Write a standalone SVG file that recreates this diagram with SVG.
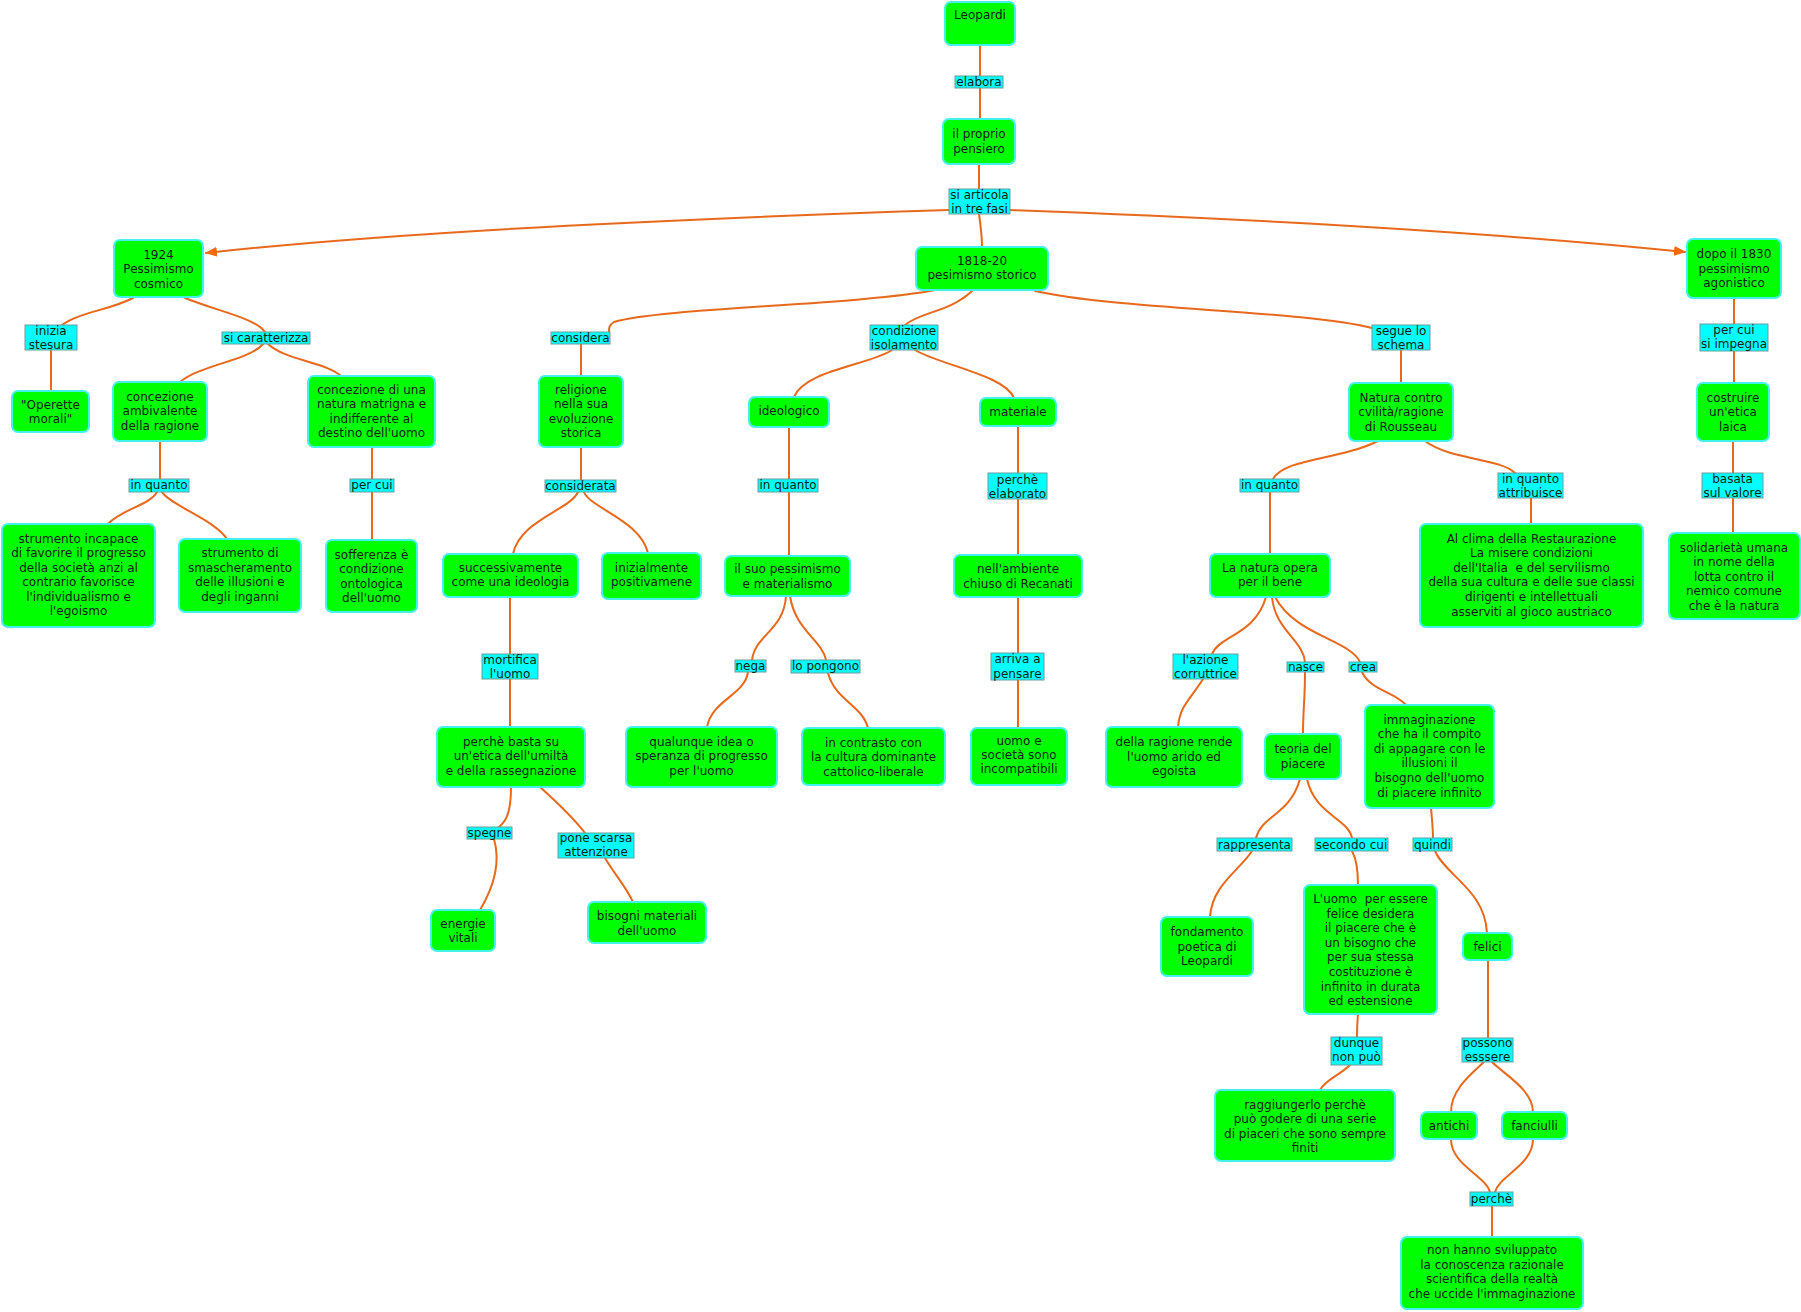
<svg xmlns="http://www.w3.org/2000/svg" width="1801" height="1312" viewBox="0 0 1801 1312">
<defs>
<style>
.n{fill:#00ff00;stroke:#44f2ec;stroke-width:2}
.l{fill:#00ffff;stroke:#6a9c9c;stroke-width:1}
text{font-family:"DejaVu Sans",Verdana,sans-serif;font-size:12px;fill:#112211;text-anchor:middle}
.c path{fill:none;stroke:#e8691c;stroke-width:2;stroke-linecap:round}
</style>
<marker id="ah" viewBox="0 0 12 10" refX="11" refY="5" markerWidth="12" markerHeight="10" markerUnits="userSpaceOnUse" orient="auto">
<path d="M0,0 L12,5 L0,10 Z" fill="#f26a10"/>
</marker>
</defs>
<rect width="1801" height="1312" fill="#ffffff"/>
<g class="c" id="connectors">
<path d="M980,45 V76 M980,88 V119"/>
<path d="M979,164 V189"/>
<path d="M949,210 Q450,226 206,253" marker-end="url(#ah)"/>
<path d="M1010,210 Q1420,225 1685,252" marker-end="url(#ah)"/>
<path d="M979,214 C981,228 982,235 982,247"/>
<path d="M935,290 C860,305 660,308 614,322 C609,325 609,328 609,332"/>
<path d="M972,291 C950,312 920,312 905,325"/>
<path d="M1035,291 C1120,310 1300,310 1372,328"/>
<path d="M133,298 C110,310 80,312 62,325"/>
<path d="M185,298 C220,312 255,318 265,332"/>
<path d="M263,344 C250,360 200,365 180,382"/>
<path d="M268,344 C285,360 325,362 341,376"/>
<path d="M51,350 V391"/>
<path d="M160,441 V479"/>
<path d="M157,492 C150,505 120,510 108,524"/>
<path d="M162,492 C170,505 215,520 227,539"/>
<path d="M372,447 V479 M372,492 V540"/>
<path d="M581,344 V376"/>
<path d="M581,447 V480"/>
<path d="M578,492 C570,510 520,520 513,554"/>
<path d="M584,492 C590,508 640,520 648,553"/>
<path d="M510,597 V654 M510,679 V727"/>
<path d="M892,350 C870,365 805,370 794,397"/>
<path d="M915,350 C940,365 1005,375 1014,398"/>
<path d="M789,427 V479 M789,492 V556"/>
<path d="M786,596 C784,630 755,635 752,660"/>
<path d="M748,672 C745,695 712,700 707,727"/>
<path d="M790,596 C795,630 822,640 826,660"/>
<path d="M828,673 C835,700 862,705 868,728"/>
<path d="M1018,426 V473 M1018,499 V555 M1018,597 V653 M1018,680 V728"/>
<path d="M1401,350 V383"/>
<path d="M1734,298 V324 M1734,351 V383 M1733,441 V473 M1733,498 V533"/>
<path d="M1378,441 C1340,460 1285,458 1273,479"/>
<path d="M1425,441 C1450,460 1500,458 1515,473"/>
<path d="M1531,498 V524"/>
<path d="M1270,492 V554"/>
<path d="M1266,597 C1255,635 1220,635 1212,654"/>
<path d="M1203,679 C1190,700 1180,705 1178,727"/>
<path d="M1272,597 C1275,630 1303,640 1305,662"/>
<path d="M1305,672 C1305,700 1303,710 1303,734"/>
<path d="M1275,597 C1295,635 1350,640 1360,662"/>
<path d="M1362,672 C1370,690 1395,692 1406,705"/>
<path d="M1300,779 C1290,815 1262,815 1256,838"/>
<path d="M1252,851 C1240,870 1212,885 1210,917"/>
<path d="M1307,779 C1315,815 1348,818 1352,838"/>
<path d="M1352,851 C1357,860 1358,870 1358,885"/>
<path d="M1431,808 C1432,820 1433,828 1433,838"/>
<path d="M1435,851 C1445,875 1485,890 1487,933"/>
<path d="M1358,1014 C1357,1025 1357,1030 1357,1037"/>
<path d="M1350,1065 C1340,1075 1325,1080 1320,1090"/>
<path d="M1488,960 V1038"/>
<path d="M1484,1062 C1470,1075 1451,1090 1451,1112"/>
<path d="M1492,1062 C1505,1075 1533,1090 1533,1112"/>
<path d="M1451,1139 C1451,1165 1485,1175 1490,1192"/>
<path d="M1533,1139 C1533,1165 1500,1175 1495,1192"/>
<path d="M1492,1206 V1237"/>
<path d="M511,787 C511,815 505,822 499,827"/>
<path d="M494,839 C500,860 495,885 480,910"/>
<path d="M540,787 C560,805 575,820 585,833"/>
<path d="M605,858 C615,875 625,885 633,902"/>
</g>
<g id="labels">
<g id="lab-elabora"><rect class="l" x="955" y="76" width="48" height="12"/><text x="979" y="86">elabora</text></g>
<g id="lab-articola"><rect class="l" x="949" y="189" width="61" height="25"/><text><tspan x="979.5" y="199">si articola</tspan><tspan x="979.5" y="213">in tre fasi</tspan></text></g>
<g id="lab-inizia"><rect class="l" x="25" y="325" width="52" height="25"/><text><tspan x="51" y="335">inizia</tspan><tspan x="51" y="349">stesura</tspan></text></g>
<g id="lab-caratterizza"><rect class="l" x="222" y="332" width="88" height="12"/><text x="266" y="342">si caratterizza</text></g>
<g id="lab-considera"><rect class="l" x="551" y="332" width="59" height="12"/><text x="580.5" y="342">considera</text></g>
<g id="lab-condizione"><rect class="l" x="870" y="325" width="68" height="25"/><text><tspan x="904" y="335">condizione</tspan><tspan x="904" y="349">isolamento</tspan></text></g>
<g id="lab-segue"><rect class="l" x="1372" y="325" width="58" height="25"/><text><tspan x="1401" y="335">segue lo</tspan><tspan x="1401" y="349">schema</tspan></text></g>
<g id="lab-impegna"><rect class="l" x="1700" y="324" width="68" height="27"/><text><tspan x="1734" y="334">per cui</tspan><tspan x="1734" y="348">si impegna</tspan></text></g>
<g id="lab-inquanto1"><rect class="l" x="129" y="479" width="60" height="13"/><text x="159" y="489">in quanto</text></g>
<g id="lab-percui"><rect class="l" x="350" y="479" width="44" height="13"/><text x="372" y="489">per cui</text></g>
<g id="lab-considerata"><rect class="l" x="545" y="480" width="71" height="12"/><text x="580.5" y="490">considerata</text></g>
<g id="lab-inquanto2"><rect class="l" x="758" y="479" width="60" height="13"/><text x="788" y="489">in quanto</text></g>
<g id="lab-elaborato"><rect class="l" x="988" y="473" width="59" height="26"/><text><tspan x="1017.5" y="484">perchè</tspan><tspan x="1017.5" y="498">elaborato</tspan></text></g>
<g id="lab-inquanto3"><rect class="l" x="1240" y="479" width="59" height="13"/><text x="1269.5" y="489">in quanto</text></g>
<g id="lab-attribuisce"><rect class="l" x="1498" y="473" width="65" height="25"/><text><tspan x="1530.5" y="483">in quanto</tspan><tspan x="1530.5" y="497">attribuisce</tspan></text></g>
<g id="lab-basata"><rect class="l" x="1702" y="473" width="61" height="25"/><text><tspan x="1732.5" y="483">basata</tspan><tspan x="1732.5" y="497">sul valore</tspan></text></g>
<g id="lab-mortifica"><rect class="l" x="482" y="654" width="56" height="25"/><text><tspan x="510" y="664">mortifica</tspan><tspan x="510" y="678">l'uomo</tspan></text></g>
<g id="lab-nega"><rect class="l" x="735" y="660" width="31" height="12"/><text x="750.5" y="670">nega</text></g>
<g id="lab-pongono"><rect class="l" x="791" y="660" width="69" height="13"/><text x="825.5" y="670">lo pongono</text></g>
<g id="lab-arriva"><rect class="l" x="991" y="653" width="53" height="27"/><text><tspan x="1017.5" y="663">arriva a</tspan><tspan x="1017.5" y="678">pensare</tspan></text></g>
<g id="lab-azione"><rect class="l" x="1173" y="654" width="65" height="25"/><text><tspan x="1205.5" y="664">l'azione</tspan><tspan x="1205.5" y="678">corruttrice</tspan></text></g>
<g id="lab-nasce"><rect class="l" x="1287" y="662" width="37" height="10"/><text x="1305.5" y="671">nasce</text></g>
<g id="lab-crea"><rect class="l" x="1349" y="662" width="28" height="10"/><text x="1363" y="671">crea</text></g>
<g id="lab-spegne"><rect class="l" x="467" y="827" width="45" height="12"/><text x="489.5" y="837">spegne</text></g>
<g id="lab-pone"><rect class="l" x="558" y="833" width="76" height="25"/><text><tspan x="596" y="842">pone scarsa</tspan><tspan x="596" y="856">attenzione</tspan></text></g>
<g id="lab-rappresenta"><rect class="l" x="1217" y="838" width="75" height="13"/><text x="1254.5" y="849">rappresenta</text></g>
<g id="lab-secondo"><rect class="l" x="1315" y="838" width="73" height="13"/><text x="1351.5" y="849">secondo cui</text></g>
<g id="lab-quindi"><rect class="l" x="1413" y="838" width="39" height="13"/><text x="1432.5" y="849">quindi</text></g>
<g id="lab-dunque"><rect class="l" x="1331" y="1037" width="51" height="28"/><text><tspan x="1356.5" y="1047">dunque</tspan><tspan x="1356.5" y="1061">non può</tspan></text></g>
<g id="lab-possono"><rect class="l" x="1462" y="1038" width="51" height="24"/><text><tspan x="1487.5" y="1047">possono</tspan><tspan x="1487.5" y="1061">esssere</tspan></text></g>
<g id="lab-perche"><rect class="l" x="1470" y="1192" width="43" height="14"/><text x="1491.5" y="1203">perchè</text></g>
</g>
<g id="nodes">
<g id="n-leopardi"><rect class="n" x="945" y="2" width="70" height="43" rx="6"/><text x="980" y="19">Leopardi</text></g>
<g id="n-pensiero"><rect class="n" x="943" y="119" width="72" height="45" rx="6"/><text><tspan x="979" y="138">il proprio</tspan><tspan x="979" y="153">pensiero</tspan></text></g>
<g id="n-1924"><rect class="n" x="114" y="240" width="89" height="57" rx="6"/><text><tspan x="158.5" y="259">1924</tspan><tspan x="158.5" y="273">Pessimismo</tspan><tspan x="158.5" y="288">cosmico</tspan></text></g>
<g id="n-1818"><rect class="n" x="916" y="247" width="132" height="43" rx="6"/><text><tspan x="982" y="265">1818-20</tspan><tspan x="982" y="279">pesimismo storico</tspan></text></g>
<g id="n-1830"><rect class="n" x="1687" y="239" width="94" height="59" rx="6"/><text><tspan x="1734" y="258">dopo il 1830</tspan><tspan x="1734" y="273">pessimismo</tspan><tspan x="1734" y="287">agonistico</tspan></text></g>
<g id="n-operette"><rect class="n" x="12" y="391" width="77" height="41" rx="6"/><text><tspan x="50.5" y="409">"Operette</tspan><tspan x="50.5" y="423">morali"</tspan></text></g>
<g id="n-ambivalente"><rect class="n" x="113" y="382" width="94" height="59" rx="6"/><text><tspan x="160" y="401">concezione</tspan><tspan x="160" y="415">ambivalente</tspan><tspan x="160" y="430">della ragione</tspan></text></g>
<g id="n-matrigna"><rect class="n" x="308" y="376" width="127" height="71" rx="6"/><text><tspan x="371.5" y="394">concezione di una</tspan><tspan x="371.5" y="408">natura matrigna e</tspan><tspan x="371.5" y="423">indifferente al</tspan><tspan x="371.5" y="437">destino dell'uomo</tspan></text></g>
<g id="n-religione"><rect class="n" x="539" y="376" width="84" height="71" rx="6"/><text><tspan x="581" y="394">religione</tspan><tspan x="581" y="408">nella sua</tspan><tspan x="581" y="423">evoluzione</tspan><tspan x="581" y="437">storica</tspan></text></g>
<g id="n-ideologico"><rect class="n" x="749" y="397" width="80" height="30" rx="6"/><text x="789" y="415">ideologico</text></g>
<g id="n-materiale"><rect class="n" x="980" y="398" width="76" height="28" rx="6"/><text x="1018" y="416">materiale</text></g>
<g id="n-natura"><rect class="n" x="1349" y="383" width="104" height="58" rx="6"/><text><tspan x="1401" y="402">Natura contro</tspan><tspan x="1401" y="416">cvilità/ragione</tspan><tspan x="1401" y="431">di Rousseau</tspan></text></g>
<g id="n-costruire"><rect class="n" x="1697" y="383" width="72" height="58" rx="6"/><text><tspan x="1733" y="402">costruire</tspan><tspan x="1733" y="416">un'etica</tspan><tspan x="1733" y="431">laica</tspan></text></g>
<g id="n-incapace"><rect class="n" x="2" y="524" width="153" height="103" rx="6"/><text><tspan x="78.5" y="543">strumento incapace</tspan><tspan x="78.5" y="557">di favorire il progresso</tspan><tspan x="78.5" y="572">della società anzi al</tspan><tspan x="78.5" y="586">contrario favorisce</tspan><tspan x="78.5" y="601">l'individualismo e</tspan><tspan x="78.5" y="615">l'egoismo</tspan></text></g>
<g id="n-smascheramento"><rect class="n" x="179" y="539" width="122" height="73" rx="6"/><text><tspan x="240" y="557">strumento di</tspan><tspan x="240" y="572">smascheramento</tspan><tspan x="240" y="586">delle illusioni e</tspan><tspan x="240" y="601">degli inganni</tspan></text></g>
<g id="n-sofferenza"><rect class="n" x="326" y="540" width="91" height="72" rx="6"/><text><tspan x="371.5" y="559">sofferenza è</tspan><tspan x="371.5" y="573">condizione</tspan><tspan x="371.5" y="588">ontologica</tspan><tspan x="371.5" y="602">dell'uomo</tspan></text></g>
<g id="n-successivamente"><rect class="n" x="443" y="554" width="135" height="43" rx="6"/><text><tspan x="510.5" y="572">successivamente</tspan><tspan x="510.5" y="586">come una ideologia</tspan></text></g>
<g id="n-inizialmente"><rect class="n" x="602" y="553" width="99" height="46" rx="6"/><text><tspan x="651.5" y="572">inizialmente</tspan><tspan x="651.5" y="586">positivamene</tspan></text></g>
<g id="n-pessimismo"><rect class="n" x="725" y="556" width="125" height="40" rx="6"/><text><tspan x="787.5" y="573">il suo pessimismo</tspan><tspan x="787.5" y="588">e materialismo</tspan></text></g>
<g id="n-recanati"><rect class="n" x="954" y="555" width="128" height="42" rx="6"/><text><tspan x="1018" y="573">nell'ambiente</tspan><tspan x="1018" y="588">chiuso di Recanati</tspan></text></g>
<g id="n-bene"><rect class="n" x="1210" y="554" width="120" height="43" rx="6"/><text><tspan x="1270" y="572">La natura opera</tspan><tspan x="1270" y="586">per il bene</tspan></text></g>
<g id="n-clima"><rect class="n" x="1420" y="524" width="223" height="103" rx="6"/><text><tspan x="1531.5" y="543">Al clima della Restaurazione</tspan><tspan x="1531.5" y="557">La misere condizioni</tspan><tspan x="1531.5" y="572">dell'Italia &#160;e del servilismo</tspan><tspan x="1531.5" y="586">della sua cultura e delle sue classi</tspan><tspan x="1531.5" y="601">dirigenti e intellettuali</tspan><tspan x="1531.5" y="616">asserviti al gioco austriaco</tspan></text></g>
<g id="n-solidarieta"><rect class="n" x="1669" y="533" width="131" height="86" rx="6"/><text><tspan x="1734" y="552">solidarietà umana</tspan><tspan x="1734" y="566">in nome della</tspan><tspan x="1734" y="581">lotta contro il</tspan><tspan x="1734" y="595">nemico comune</tspan><tspan x="1734" y="610">che è la natura</tspan></text></g>
<g id="n-umilta"><rect class="n" x="437" y="727" width="148" height="60" rx="6"/><text><tspan x="511" y="746">perchè basta su</tspan><tspan x="511" y="760">un'etica dell'umiltà</tspan><tspan x="511" y="775">e della rassegnazione</tspan></text></g>
<g id="n-qualunque"><rect class="n" x="626" y="727" width="151" height="60" rx="6"/><text><tspan x="701.5" y="746">qualunque idea o</tspan><tspan x="701.5" y="760">speranza di progresso</tspan><tspan x="701.5" y="775">per l'uomo</tspan></text></g>
<g id="n-contrasto"><rect class="n" x="802" y="728" width="143" height="57" rx="6"/><text><tspan x="873.5" y="747">in contrasto con</tspan><tspan x="873.5" y="761">la cultura dominante</tspan><tspan x="873.5" y="776">cattolico-liberale</tspan></text></g>
<g id="n-incompatibili"><rect class="n" x="971" y="728" width="96" height="57" rx="6"/><text><tspan x="1019" y="745">uomo e</tspan><tspan x="1019" y="759">società sono</tspan><tspan x="1019" y="773">incompatibili</tspan></text></g>
<g id="n-arido"><rect class="n" x="1106" y="727" width="136" height="60" rx="6"/><text><tspan x="1174" y="746">della ragione rende</tspan><tspan x="1174" y="761">l'uomo arido ed</tspan><tspan x="1174" y="775">egoista</tspan></text></g>
<g id="n-teoria"><rect class="n" x="1265" y="734" width="76" height="45" rx="6"/><text><tspan x="1303" y="753">teoria del</tspan><tspan x="1303" y="768">piacere</tspan></text></g>
<g id="n-immaginazione"><rect class="n" x="1365" y="705" width="129" height="103" rx="6"/><text><tspan x="1429.5" y="724">immaginazione</tspan><tspan x="1429.5" y="738">che ha il compito</tspan><tspan x="1429.5" y="753">di appagare con le</tspan><tspan x="1429.5" y="767">illusioni il</tspan><tspan x="1429.5" y="782">bisogno dell'uomo</tspan><tspan x="1429.5" y="797">di piacere infinito</tspan></text></g>
<g id="n-energie"><rect class="n" x="431" y="910" width="64" height="41" rx="6"/><text><tspan x="463" y="928">energie</tspan><tspan x="463" y="942">vitali</tspan></text></g>
<g id="n-bisogni"><rect class="n" x="588" y="902" width="118" height="41" rx="6"/><text><tspan x="647" y="920">bisogni materiali</tspan><tspan x="647" y="935">dell'uomo</tspan></text></g>
<g id="n-fondamento"><rect class="n" x="1161" y="917" width="92" height="59" rx="6"/><text><tspan x="1207" y="936">fondamento</tspan><tspan x="1207" y="951">poetica di</tspan><tspan x="1207" y="965">Leopardi</tspan></text></g>
<g id="n-uomo"><rect class="n" x="1304" y="885" width="133" height="129" rx="6"/><text><tspan x="1370.5" y="903">L'uomo &#160;per essere</tspan><tspan x="1370.5" y="918">felice desidera</tspan><tspan x="1370.5" y="932">il piacere che è</tspan><tspan x="1370.5" y="947">un bisogno che</tspan><tspan x="1370.5" y="961">per sua stessa</tspan><tspan x="1370.5" y="976">costituzione è</tspan><tspan x="1370.5" y="991">infinito in durata</tspan><tspan x="1370.5" y="1005">ed estensione</tspan></text></g>
<g id="n-felici"><rect class="n" x="1463" y="933" width="49" height="27" rx="6"/><text x="1487.5" y="951">felici</text></g>
<g id="n-raggiungerlo"><rect class="n" x="1215" y="1090" width="180" height="71" rx="6"/><text><tspan x="1305" y="1109">raggiungerlo perchè</tspan><tspan x="1305" y="1123">può godere di una serie</tspan><tspan x="1305" y="1138">di piaceri che sono sempre</tspan><tspan x="1305" y="1152">finiti</tspan></text></g>
<g id="n-antichi"><rect class="n" x="1421" y="1112" width="56" height="27" rx="6"/><text x="1449" y="1130">antichi</text></g>
<g id="n-fanciulli"><rect class="n" x="1502" y="1112" width="65" height="27" rx="6"/><text x="1534.5" y="1130">fanciulli</text></g>
<g id="n-sviluppato"><rect class="n" x="1401" y="1237" width="182" height="72" rx="6"/><text><tspan x="1492" y="1254">non hanno sviluppato</tspan><tspan x="1492" y="1269">la conoscenza razionale</tspan><tspan x="1492" y="1283">scientifica della realtà</tspan><tspan x="1492" y="1298">che uccide l'immaginazione</tspan></text></g>
</g>
</svg>
